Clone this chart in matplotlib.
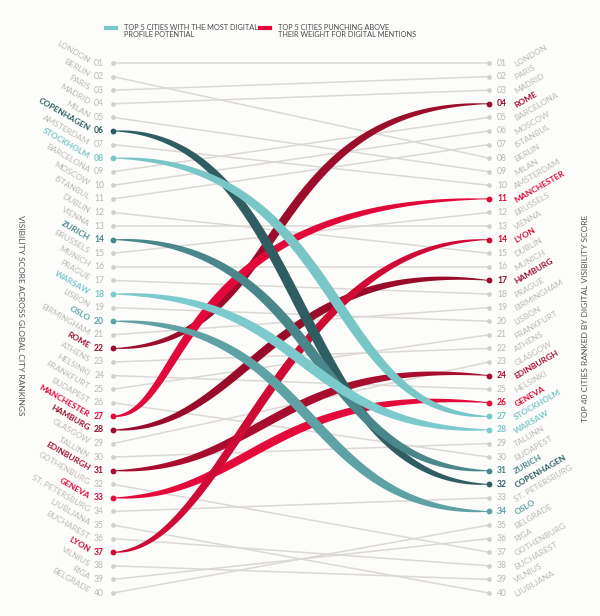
import matplotlib
matplotlib.use("Agg")
import matplotlib.pyplot as plt
import numpy as np
from matplotlib.patches import Polygon
from matplotlib.lines import Line2D

# ---------------- data ----------------
left_cities = ["LONDON", "BERLIN", "PARIS", "MADRID", "MILAN", "COPENHAGEN", "AMSTERDAM",
               "STOCKHOLM", "BARCELONA", "MOSCOW", "ISTANBUL", "DUBLIN", "VIENNA", "ZURICH",
               "BRUSSELS", "MUNICH", "PRAGUE", "WARSAW", "LISBON", "OSLO", "BIRMINGHAM", "ROME",
               "ATHENS", "HELSINKI", "FRANKFURT", "BUDAPEST", "MANCHESTER", "HAMBURG", "GLASGOW",
               "TALLINN", "EDINBURGH", "GOTHENBURG", "GENEVA", "ST. PETERSBURG", "LJUBLJANA",
               "BUCHAREST", "LYON", "VILNIUS", "RIGA", "BELGRADE"]
right_cities = ["LONDON", "PARIS", "MADRID", "ROME", "BARCELONA", "MOSCOW", "ISTANBUL", "BERLIN",
                "MILAN", "AMSTERDAM", "MANCHESTER", "BRUSSELS", "VIENNA", "LYON", "DUBLIN",
                "MUNICH", "HAMBURG", "PRAGUE", "BIRMINGHAM", "LISBON", "FRANKFURT", "ATHENS",
                "GLASGOW", "EDINBURGH", "HELSINKI", "GENEVA", "STOCKHOLM", "WARSAW", "TALLINN",
                "BUDAPEST", "ZURICH", "COPENHAGEN", "ST. PETERSBURG", "OSLO", "BELGRADE", "RIGA",
                "GOTHENBURG", "BUCHAREST", "VILNIUS", "LJUBLJANA"]
potential = ["COPENHAGEN", "STOCKHOLM", "ZURICH", "WARSAW", "OSLO"]
punching = ["ROME", "MANCHESTER", "HAMBURG", "EDINBURGH", "GENEVA", "LYON"]

legend_labels = ["TOP 5 CITIES WITH THE MOST DIGITAL\nPROFILE POTENTIAL",
                 "TOP 5 CITIES PUNCHING ABOVE\nTHEIR WEIGHT FOR DIGITAL MENTIONS"]
left_title = "VISIBILITY SCORE ACROSS GLOBAL CITY RANKINGS"
right_title = "TOP 40 CITIES RANKED BY DIGITAL VISIBILITY SCORE"

# ---------------- style ----------------
city_colors = {
    "COPENHAGEN": "#2f5d61", "STOCKHOLM": "#79c6c7", "ZURICH": "#4a878b",
    "WARSAW": "#7ccacb", "OSLO": "#5fa2a4",
    "ROME": "#9b0d2b", "MANCHESTER": "#e2093a", "HAMBURG": "#990b2a",
    "EDINBURGH": "#a90d2e", "GENEVA": "#e40b3b", "LYON": "#cf0a35",
}
# bezier control fractions + end overshoot (style of the curves)
curve_shape = {
    "COPENHAGEN": (0.52, 0.48, 0.0), "STOCKHOLM": (0.62, 0.56, 0.0),
    "ZURICH": (0.57, 0.52, 0.0), "WARSAW": (0.53, 0.49, 0.0), "OSLO": (0.55, 0.50, 0.0),
    "ROME": (0.47, 0.38, 0.0), "MANCHESTER": (0.20, 0.15, 0.0),
    "HAMBURG": (0.36, 0.42, -1.7), "EDINBURGH": (0.40, 0.44, -1.4),
    "GENEVA": (0.36, 0.42, -1.4), "LYON": (0.30, 0.45, 0.0),
}
TEAL_LEG = "#7cc8c8"
RED_LEG = "#e2093a"
GREY_LINE = "#dcd8d6"
GREY_DOT = "#d3cfcd"
GREY_TXT = "#bdb8b6"
BG = "#fcfcfb"
FONT = ["Lato", "DejaVu Sans"]

W, H = 600, 616
XL, XR = 113, 489
TOP_PX, SP = 63, 13.59

fig = plt.figure(figsize=(W / 100, H / 100), dpi=100, facecolor=BG)
ax = fig.add_axes([0, 0, 1, 1])
ax.set_facecolor(BG)
ax.set_xlim(0, W)
ax.set_ylim(1 + (H - TOP_PX) / SP, 1 - TOP_PX / SP)
ax.axis("off")

left_rank = {c: i + 1 for i, c in enumerate(left_cities)}
right_rank = {c: i + 1 for i, c in enumerate(right_cities)}
highlight = set(potential) | set(punching)

# grey connectors
for c in left_cities:
    if c in highlight:
        continue
    ax.plot([XL, XR], [left_rank[c], right_rank[c]], color=GREY_LINE, lw=1.1,
            zorder=1, solid_capstyle="round")


def ribbon(c, wmax, z):
    r0, r1 = left_rank[c], right_rank[c]
    a, b, o = curve_shape[c]
    dx = XR - XL
    t = np.linspace(0, 1, 700)
    P = np.array([[XL, r0], [XL + a * dx, r0], [XL + b * dx, r1 + o], [XR, r1]], float)
    B = ((1 - t) ** 3)[:, None] * P[0] + (3 * t * (1 - t) ** 2)[:, None] * P[1] \
        + (3 * t ** 2 * (1 - t))[:, None] * P[2] + (t ** 3)[:, None] * P[3]
    pts = ax.transData.transform(B)
    d = np.gradient(pts, axis=0)
    d /= np.linalg.norm(d, axis=1)[:, None]
    nrm = np.column_stack([-d[:, 1], d[:, 0]])
    w = np.maximum(1.0, wmax * np.sin(np.pi * t) ** 0.6)
    up = pts + nrm * (w / 2)[:, None]
    lo = pts - nrm * (w / 2)[:, None]
    poly = ax.transData.inverted().transform(np.vstack([up, lo[::-1]]))
    ax.add_patch(Polygon(poly, closed=True, fc=city_colors[c], ec="none", zorder=z))


for c in punching:
    ribbon(c, 8.5, 2)
for c in potential:
    ribbon(c, 10.0, 3)

# dots and labels
for c in left_cities:
    r = left_rank[c]
    col = city_colors.get(c, GREY_DOT)
    hl = c in highlight
    ax.plot([XL], [r], "o", ms=4.2 if hl else 3.4, color=col, mec="none", zorder=5)
    tcol = city_colors.get(c, GREY_TXT)
    ax.text(104, r, f"{r:02d}", ha="right", va="center", fontsize=6.2, color=tcol,
            family=FONT, fontweight="bold" if hl else "normal")
    ax.text(89, r - 0.12, c, ha="right", va="center", rotation=-30, rotation_mode="anchor",
            fontsize=6, color=tcol, family=FONT, fontweight="bold" if hl else "normal")

for c in right_cities:
    r = right_rank[c]
    col = city_colors.get(c, GREY_DOT)
    hl = c in highlight
    ax.plot([XR], [r], "o", ms=4.2 if hl else 3.4, color=col, mec="none", zorder=5)
    tcol = city_colors.get(c, GREY_TXT)
    ax.text(497, r, f"{r:02d}", ha="left", va="center", fontsize=6.2, color=tcol,
            family=FONT, fontweight="bold" if hl else "normal")
    ax.text(515, r + 0.12, c, ha="left", va="center", rotation=30, rotation_mode="anchor",
            fontsize=6, color=tcol, family=FONT, fontweight="bold" if hl else "normal")

# axis titles
fig.text(20 / W, 1 - 315 / H, left_title, rotation=-90, ha="center", va="center",
         fontsize=6, color="#555555", family=FONT)
fig.text(585 / W, 1 - 318 / H, right_title, rotation=90, ha="center", va="center",
         fontsize=6, color="#555555", family=FONT)

# legend
for (x0, x1, tx), col, lab in zip([(106, 116, 124), (260, 270, 278)],
                                  [TEAL_LEG, RED_LEG], legend_labels):
    fig.add_artist(Line2D([x0 / W, x1 / W], [1 - 28 / H, 1 - 28 / H], color=col, lw=3,
                          transform=fig.transFigure))
    fig.text(tx / W, 1 - 23.5 / H, lab, ha="left", va="top", fontsize=5.3, color="#4a4a4a",
             family=FONT, linespacing=1.05)

fig.savefig("out.png", dpi=100, facecolor=BG)
